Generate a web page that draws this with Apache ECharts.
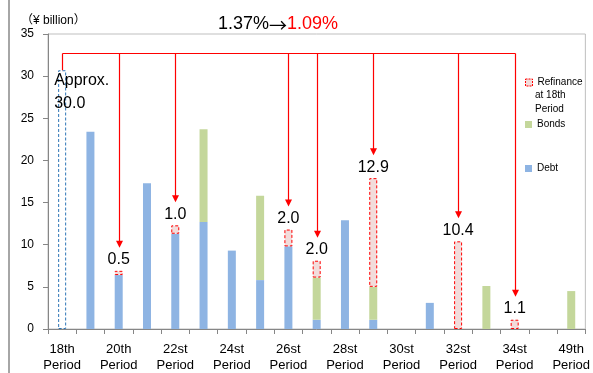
<!DOCTYPE html>
<html>
<head>
<meta charset="utf-8">
<script src="https://cdn.jsdelivr.net/npm/echarts@6/dist/echarts.min.js"></script>
<style>
html,body{margin:0;padding:0;background:#fff;}
#chart{width:593px;height:373px;}
</style>
</head>
<body>
<div id="chart"></div>
<script>
// ---- data ----
const categories = ['18th\nPeriod','19th\nPeriod','20th\nPeriod','21st\nPeriod','22st\nPeriod','23rd\nPeriod','24st\nPeriod','25th\nPeriod','26st\nPeriod','27th\nPeriod','28st\nPeriod','29th\nPeriod','30st\nPeriod','31st\nPeriod','32st\nPeriod','33rd\nPeriod','34st\nPeriod','35th\nPeriod','49th\nPeriod'];
const existing18th = [30.7, null, null, null, null, null, null, null, null, null, null, null, null, null, null, null, null, null, null];
const existing18thLabel = 30.0; // "Approx. 30.0" as printed
const debt  = [null, 23.4, 6.4, 17.3, 11.3, 12.7, 9.3, 5.8, 9.8, 1.1, 12.9, 1.1, null, 3.1, null, null, null, null, null];
const bonds = [null, null, null, null, null, 11.0, null, 10.0, null, 5.0, null, 3.9, null, null, null, 5.1, null, null, 4.5];
const refinance = [null, null, 0.5, null, 1.0, null, null, null, 2.0, 2.0, null, 12.9, null, null, 10.4, null, 1.1, null, null];
const arrowTargets = [0, 2, 4, 8, 9, 11, 14, 16]; // first = source (18th period), rest = refinanced periods
const bracketLevel = 32.8;
const yTicks = {min: 0, max: 35, interval: 5};
const rateBefore = '1.37%';
const rateAfter = '1.09%';

// totals of stacks for arrow targets
const totals = categories.map((c, i) =>
  [existing18th, debt, bonds, refinance].reduce((s, arr) => s + (arr[i] || 0), 0));
const arrowData = arrowTargets.map(i => [i, totals[i]]);

const FONT = "'Liberation Sans', Arial, 'Noto Sans CJK JP', sans-serif";
const CJK = "'Noto Sans CJK JP', sans-serif";
const RED = '#FF0000';

function renderArrows(params, api) {
  const idx = api.value(0);
  const topVal = api.value(1);
  const pLevel = api.coord([idx, bracketLevel]);
  const pTop = api.coord([idx, topVal]);
  const x = Math.round(pLevel[0]) + 0.5;
  const yL = Math.round(pLevel[1]) + 0.5;
  const children = [];
  const st = {stroke: RED, lineWidth: 1.2, fill: null};
  if (params.dataIndex === 0) {
    const last = arrowTargets[arrowTargets.length - 1];
    const xEnd = Math.round(api.coord([last, bracketLevel])[0]) + 0.5;
    children.push({type: 'line', shape: {x1: x, y1: yL, x2: xEnd, y2: yL}, style: st});
    children.push({type: 'line', shape: {x1: x, y1: yL, x2: x, y2: pTop[1]}, style: st});
  } else {
    const tip = pTop[1] - 23;
    children.push({type: 'line', shape: {x1: x, y1: yL, x2: x, y2: tip - 5}, style: st});
    children.push({type: 'polygon', shape: {points: [[x - 3.5, tip - 7], [x + 3.5, tip - 7], [x, tip]]}, style: {fill: RED}});
  }
  return {type: 'group', children};
}

const legendText = {fontSize: 10, lineHeight: 13, color: '#000', fontFamily: FONT};

const chart = echarts.init(document.getElementById('chart'), null, {renderer: 'canvas'});
const option = {
  animation: false,
  textStyle: {fontFamily: FONT},
  title: [
    {
      text: '（¥ billion）',
      left: 16, top: 9,
      textStyle: {fontSize: 12, fontWeight: 'normal', color: '#000', lineHeight: 14, fontFamily: FONT}
    },
    {
      text: '{a|' + rateBefore + '}{arr|→}{b|' + rateAfter + '}',
      left: 213, top: 9,
      textStyle: {
        fontWeight: 'normal',
        rich: {
          a: {fontSize: 18, fontWeight: 'normal', color: '#000', lineHeight: 20, fontFamily: FONT},
          arr: {fontSize: 18, fontWeight: 'normal', color: '#000', lineHeight: 20, fontFamily: CJK, padding: [2, 0, 0, 0]},
          b: {fontSize: 18, fontWeight: 'normal', color: RED, lineHeight: 20, fontFamily: FONT}
        }
      }
    }
  ],
  graphic: [
    {type: 'line', shape: {x1: 9, y1: 0, x2: 9, y2: 373}, style: {stroke: '#A6A6A6', lineWidth: 2}, silent: true},
    {type: 'text', left: 535, top: 88, silent: true,
      style: {text: 'at 18th\nPeriod', fontSize: 10, lineHeight: 14, fill: '#000', fontFamily: FONT}}
  ],
  legend: [
    {
      left: 525, top: 76, padding: 0,
      itemWidth: 7, itemHeight: 7,
      data: [{name: 'Refinance at 18th Period', icon: 'rect',
        itemStyle: {color: '#F2DCDB', borderColor: RED, borderWidth: 1, borderType: [2, 1]}}],
      formatter: () => 'Refinance',
      textStyle: legendText,
      selectedMode: false
    },
    {
      left: 525, top: 118, padding: 0,
      itemWidth: 7, itemHeight: 7,
      data: [{name: 'Bonds', icon: 'rect'}],
      textStyle: legendText,
      selectedMode: false
    },
    {
      left: 525, top: 162, padding: 0,
      itemWidth: 7, itemHeight: 7,
      data: [{name: 'Debt', icon: 'rect'}],
      textStyle: legendText,
      selectedMode: false
    }
  ],
  grid: {
    left: 48, right: 7, top: 34, bottom: 44,
    show: true, borderColor: '#BFBFBF', borderWidth: 1,
    containLabel: false
  },
  xAxis: {
    type: 'category',
    data: categories,
    boundaryGap: true,
    axisLine: {lineStyle: {color: '#868686', width: 1}},
    axisTick: {show: true, interval: 0, length: 5, lineStyle: {color: '#868686'}},
    axisLabel: {interval: 1, fontSize: 13, lineHeight: 16, color: '#000', margin: 12, fontFamily: FONT},
    splitLine: {show: false}
  },
  yAxis: {
    type: 'value',
    min: yTicks.min, max: yTicks.max, interval: yTicks.interval,
    axisLine: {show: true, lineStyle: {color: '#868686', width: 1}},
    axisTick: {show: true, length: 5, lineStyle: {color: '#868686'}},
    axisLabel: {fontSize: 12, color: '#000', margin: 14, fontFamily: FONT},
    splitLine: {show: false}
  },
  series: [
    {
      name: 'Approx',
      type: 'bar', stack: 'total', barWidth: 8,
      data: existing18th,
      itemStyle: {color: 'rgba(255,255,255,0)', borderColor: '#2E75B6', borderWidth: 1, borderType: [3, 2]},
      label: {
        show: true, position: [-4, -1], align: 'left', verticalAlign: 'top',
        fontSize: 16, lineHeight: 23, color: '#000', fontFamily: FONT,
        formatter: () => 'Approx.\n' + existing18thLabel.toFixed(1)
      },
      z: 2
    },
    {
      name: 'Debt',
      type: 'bar', stack: 'total', barWidth: 8,
      data: debt,
      itemStyle: {color: '#8EB4E3'}
    },
    {
      name: 'Bonds',
      type: 'bar', stack: 'total', barWidth: 8,
      data: bonds,
      itemStyle: {color: '#C4D79B'}
    },
    {
      name: 'Refinance at 18th Period',
      type: 'bar', stack: 'total', barWidth: 8,
      data: refinance,
      itemStyle: {color: '#F2DCDB', borderColor: RED, borderWidth: 1, borderType: [3, 2]},
      label: {
        show: true, position: 'top', distance: 3,
        fontSize: 16, color: '#000', fontFamily: FONT,
        formatter: p => p.value.toFixed(1)
      }
    },
    {
      name: 'arrows',
      type: 'custom',
      data: arrowData,
      encode: {x: 0, y: 1},
      renderItem: renderArrows,
      clip: false,
      silent: true,
      z: 5
    }
  ]
};
chart.setOption(option);
</script>
</body>
</html>
